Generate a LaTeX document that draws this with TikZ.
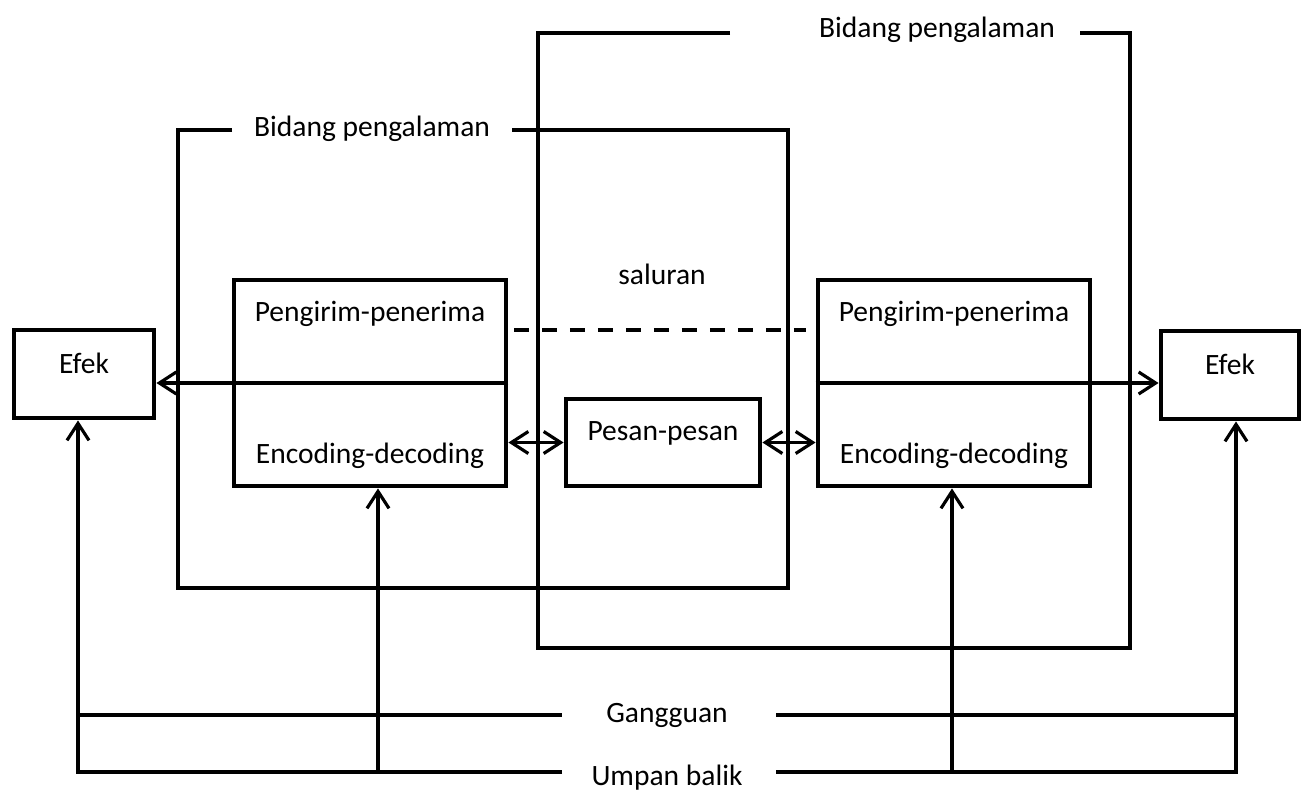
\documentclass[tikz,border=0pt]{standalone}
\usepackage{fontspec}
\setmainfont{Carlito}
\usetikzlibrary{arrows.meta,positioning}

\tikzset{
  box/.style={draw,line width=2.8pt,inner sep=0pt},
  frame/.style={line width=1.8pt},
  txt/.style={anchor=base,inner sep=0pt}
}

\begin{document}
\begin{tikzpicture}[x=0.02cm,y=-0.02cm,>={Straight Barb[length=3.4mm,width=4.4mm]},
  every node/.style={font=\fontsize{16.8}{20}\selectfont}]
  \useasboundingbox (0,0) rectangle (1304,792);

  % boxes
  \node[box,minimum width=2.8cm,minimum height=1.76cm,
    label={[anchor=base,yshift=-26pt]north:Efek}] (efl) at (84,374) {};
  \node[box,minimum width=2.76cm,minimum height=1.76cm,
    label={[anchor=base,yshift=-26pt]north:Efek}] (efr) at (1230,375) {};
  \node[box,minimum width=5.44cm,minimum height=4.12cm,
    label={[anchor=base,yshift=-25pt]north:Pengirim-penerima},
    label={[anchor=base,yshift=14pt]south:Encoding-decoding}] (lp) at (370,383) {};
  \node[box,minimum width=5.44cm,minimum height=4.12cm,
    label={[anchor=base,yshift=-25pt]north:Pengirim-penerima},
    label={[anchor=base,yshift=14pt]south:Encoding-decoding}] (rp) at (954,383) {};
  \node[box,minimum width=3.88cm,minimum height=1.74cm,
    label={[anchor=base,yshift=-25pt]north:Pesan-pesan}] (pesan) at (663,442.5) {};

  % fields of experience
  \node[txt] (bl) at (372,136) {Bidang pengalaman};
  \node[txt] (br) at (937,37) {Bidang pengalaman};
  \draw[frame] (232,130) -| (178,588) -| (788,130) -- (512,130);
  \draw[frame] (730,33) -| (538,648) -| (1130,33) -- (1080,33);

  \node[txt] (sal) at (662,284) {saluran};
  \draw[frame,dash pattern=on 0.3cm off 0.26cm] (514,330) -- (806,330);

  % arrows
  \draw[frame,->] (lp.east) -- (lp.east -| efl.east);
  \draw[frame,->] (rp.west) -- (rp.west -| efr.west);
  \draw[frame,<->] (pesan.west -| lp.east) -- (pesan.west);
  \draw[frame,<->] (pesan.east) -- (pesan.east -| rp.west);

  % noise and feedback
  \node[txt] (gg) at (667,722) {Gangguan};
  \node[txt] (ub) at (667,785) {Umpan balik};
  \coordinate (c1) at (78,772);
  \coordinate (c2) at (378,772);
  \coordinate (c3) at (952,772);
  \coordinate (c4) at (1236,772);
  \draw[frame] (78,715) -- (562,715) (776,715) -- (1236,715);
  \draw[frame,->] (562,772) -| (c1 |- efl.south);
  \draw[frame,->] (776,772) -| (c4 |- efr.south);
  \draw[frame,->] (c2) -- (c2 |- lp.south);
  \draw[frame,->] (c3) -- (c3 |- rp.south);
\end{tikzpicture}
\end{document}
